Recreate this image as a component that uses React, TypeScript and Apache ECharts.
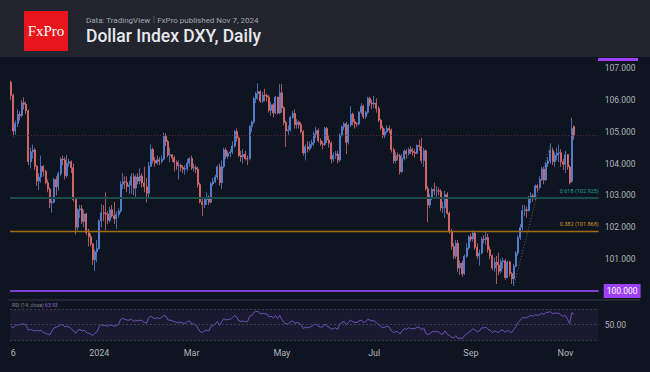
import React, { useEffect, useRef } from "react";
import * as echarts from "echarts";

// Daily candles, each [open, close, low, high]
const nov23 = [
  [106.55, 106.14, 106.0, 106.6], [106.14, 105.02, 104.85, 106.2], [105.02, 105.26, 104.9, 105.35],
  [105.26, 105.55, 105.15, 105.7], [105.55, 105.51, 105.35, 105.65], [105.51, 105.91, 105.45, 106.0],
  [105.91, 105.86, 105.7, 106.08], [105.86, 105.65, 105.55, 105.95], [105.65, 104.06, 103.95, 105.7],
  [104.06, 104.37, 103.85, 104.5], [104.37, 104.43, 104.15, 104.6], [104.43, 103.92, 103.8, 104.5],
  [103.92, 103.45, 103.3, 103.95], [103.45, 103.58, 103.17, 103.7], [103.58, 103.92, 103.4, 104.25],
  [103.92, 103.76, 103.6, 103.95], [103.76, 103.4, 103.35, 103.8], [103.4, 103.2, 103.1, 103.5],
  [103.2, 102.77, 102.6, 103.25], [102.77, 102.79, 102.46, 102.9], [102.79, 103.5, 102.75, 103.55],
];
const dec23 = [
  [103.5, 103.27, 103.0, 103.6], [103.27, 103.68, 103.15, 103.75], [103.68, 104.14, 103.6, 104.2],
  [104.14, 104.12, 103.95, 104.25], [104.12, 103.62, 103.5, 104.2], [103.62, 104.01, 103.55, 104.27],
  [104.01, 104.06, 103.9, 104.15], [104.06, 103.87, 103.7, 104.1], [103.87, 102.87, 102.8, 104.0],
  [102.87, 102.0, 101.77, 102.9], [102.0, 102.55, 101.9, 102.6], [102.55, 102.58, 102.3, 102.7],
  [102.58, 102.18, 102.1, 102.7], [102.18, 102.42, 102.0, 102.55], [102.42, 101.83, 101.75, 102.45],
  [101.83, 101.7, 101.4, 101.95], [101.7, 101.48, 101.4, 101.8], [101.48, 100.98, 100.82, 101.5],
  [100.98, 101.23, 100.62, 101.3], [101.23, 101.33, 100.9, 101.6],
];
const jan24 = [
  [101.33, 102.2, 101.3, 102.25], [102.2, 102.46, 102.0, 102.73], [102.46, 102.43, 102.2, 102.7],
  [102.43, 102.41, 101.9, 103.1], [102.41, 102.22, 102.1, 102.5], [102.22, 102.55, 102.15, 102.65],
  [102.55, 102.36, 102.3, 102.7], [102.36, 102.27, 102.1, 102.8], [102.27, 102.4, 101.95, 102.5],
  [102.4, 102.51, 102.3, 102.6], [102.51, 103.35, 102.45, 103.45], [103.35, 103.43, 103.2, 103.7],
  [103.43, 103.41, 103.2, 103.6], [103.41, 103.28, 103.1, 103.6], [103.28, 103.33, 103.05, 103.45],
  [103.33, 103.59, 103.05, 103.7], [103.59, 103.23, 103.0, 103.7], [103.23, 103.58, 102.9, 103.65],
  [103.58, 103.45, 103.35, 103.7], [103.45, 103.61, 103.35, 103.85], [103.61, 103.39, 103.25, 103.7],
  [103.39, 103.27, 103.1, 103.9],
];
const feb24 = [
  [103.27, 103.07, 102.78, 103.55], [103.07, 103.92, 102.95, 104.05], [103.92, 104.44, 103.9, 104.6],
  [104.44, 104.1, 104.0, 104.5], [104.1, 104.02, 103.9, 104.2], [104.02, 104.12, 103.95, 104.25],
  [104.12, 104.07, 103.95, 104.2], [104.07, 104.14, 104.0, 104.25], [104.14, 104.86, 104.1, 104.97],
  [104.86, 104.69, 104.55, 104.95], [104.69, 104.27, 104.2, 104.75], [104.25, 104.28, 104.05, 104.5],
  [104.28, 104.18, 104.05, 104.3], [104.18, 104.04, 103.75, 104.25], [104.04, 103.93, 103.8, 104.1],
  [103.93, 103.94, 103.5, 104.1], [103.94, 103.88, 103.75, 104.0], [103.88, 103.82, 103.7, 103.95],
  [103.82, 103.84, 103.65, 103.95], [103.84, 104.01, 103.75, 104.15], [104.01, 104.16, 103.9, 104.2],
];
const mar24 = [
  [104.16, 103.86, 103.8, 104.25], [103.86, 103.87, 103.75, 104.0], [103.87, 103.82, 103.7, 103.95],
  [103.82, 103.34, 103.25, 103.9], [103.34, 102.8, 102.75, 103.4], [102.8, 102.71, 102.35, 102.9],
  [102.71, 102.87, 102.6, 102.95], [102.87, 102.95, 102.7, 103.1], [102.95, 102.79, 102.7, 103.0],
  [102.79, 103.37, 102.75, 103.42], [103.37, 103.43, 103.3, 103.55], [103.43, 103.58, 103.4, 103.65],
  [103.58, 103.9, 103.5, 103.95], [103.9, 103.4, 103.3, 104.0], [103.4, 103.9, 103.2, 104.1],
  [103.9, 104.43, 103.85, 104.5], [104.43, 104.23, 104.15, 104.5], [104.23, 104.33, 104.15, 104.4],
  [104.33, 104.36, 104.2, 104.45], [104.36, 104.55, 104.3, 104.7],
];
const apr24 = [
  [104.55, 105.01, 104.5, 105.05], [105.01, 104.8, 104.7, 105.1], [104.8, 104.25, 104.2, 104.85],
  [104.25, 104.21, 104.05, 104.4], [104.21, 104.29, 104.0, 104.45], [104.29, 104.16, 104.1, 104.4],
  [104.16, 104.15, 103.95, 104.25], [104.15, 105.17, 104.1, 105.2], [105.17, 105.3, 105.0, 105.35],
  [105.3, 106.04, 105.25, 106.1], [106.04, 106.2, 105.9, 106.25], [106.2, 106.26, 106.0, 106.52],
  [106.26, 105.96, 105.9, 106.3], [105.96, 106.15, 105.9, 106.25], [106.15, 106.13, 105.95, 106.35],
  [106.13, 106.09, 105.95, 106.2], [106.09, 105.67, 105.6, 106.15], [105.67, 105.85, 105.5, 105.95],
  [105.85, 105.59, 105.45, 105.9], [105.59, 106.09, 105.55, 106.12], [106.09, 105.59, 105.55, 106.1],
  [105.59, 106.22, 105.55, 106.5],
];
const may24 = [
  [106.22, 105.75, 105.6, 106.5], [105.75, 105.29, 105.2, 105.8], [105.29, 105.03, 104.52, 105.35],
  [105.03, 105.06, 104.9, 105.2], [105.06, 105.45, 105.0, 105.5], [105.45, 105.57, 105.4, 105.65],
  [105.57, 105.22, 105.1, 105.7], [105.22, 105.3, 105.1, 105.4], [105.3, 105.22, 105.1, 105.35],
  [105.22, 105.0, 104.95, 105.3], [105.0, 104.33, 104.25, 105.05], [104.33, 104.53, 104.1, 104.6],
  [104.53, 104.46, 104.35, 104.7], [104.46, 104.6, 104.4, 104.7], [104.6, 104.65, 104.5, 104.75],
  [104.65, 104.93, 104.55, 105.0], [104.93, 105.04, 104.8, 105.15], [105.04, 104.72, 104.65, 105.1],
  [104.72, 104.62, 104.55, 104.8], [104.62, 104.6, 104.45, 104.7], [104.6, 105.1, 104.55, 105.15],
  [105.1, 104.74, 104.65, 105.15], [104.74, 104.64, 104.5, 104.9],
];
const jun24 = [
  [104.64, 104.14, 104.0, 104.7], [104.14, 104.26, 104.05, 104.35], [104.26, 104.3, 104.15, 104.4],
  [104.3, 104.11, 104.0, 104.4], [104.11, 104.9, 104.05, 104.95], [104.9, 105.15, 104.85, 105.2],
  [105.15, 105.25, 105.05, 105.3], [105.25, 104.67, 104.3, 105.3], [104.67, 105.21, 104.6, 105.25],
  [105.21, 105.55, 105.15, 105.8], [105.55, 105.31, 105.2, 105.6], [105.31, 105.25, 105.1, 105.4],
  [105.25, 105.24, 105.15, 105.3], [105.24, 105.61, 105.2, 105.65], [105.61, 105.8, 105.55, 105.9],
  [105.8, 105.47, 105.4, 105.85], [105.47, 105.61, 105.4, 105.65], [105.61, 106.05, 105.55, 106.1],
  [106.05, 105.9, 105.8, 106.1], [105.9, 105.87, 105.7, 106.0],
];
const jul24 = [
  [105.87, 105.9, 105.75, 106.13], [105.9, 105.73, 105.6, 106.05], [105.73, 105.36, 105.3, 105.8],
  [105.36, 105.12, 105.05, 105.4], [105.12, 104.89, 104.8, 105.2], [104.89, 105.0, 104.8, 105.1],
  [105.0, 105.11, 104.95, 105.2], [105.11, 105.05, 104.95, 105.2], [105.05, 104.44, 104.35, 105.1],
  [104.44, 104.09, 104.0, 104.5], [104.09, 104.25, 104.0, 104.35], [104.25, 104.24, 104.1, 104.35],
  [104.24, 103.75, 103.65, 104.3], [103.75, 104.16, 103.7, 104.3], [104.16, 104.39, 104.1, 104.45],
  [104.39, 104.31, 104.15, 104.45], [104.31, 104.44, 104.25, 104.5], [104.44, 104.38, 104.3, 104.55],
  [104.38, 104.35, 104.25, 104.5], [104.35, 104.32, 104.2, 104.45], [104.32, 104.57, 104.3, 104.6],
  [104.57, 104.54, 104.4, 104.75], [104.54, 104.1, 104.0, 104.8],
];
const aug24 = [
  [104.1, 104.4, 103.9, 104.5], [104.4, 103.21, 103.15, 104.45], [103.21, 102.7, 102.16, 103.3],
  [102.7, 102.95, 102.6, 103.05], [102.95, 103.19, 102.85, 103.25], [103.19, 103.14, 103.0, 103.4],
  [103.14, 103.15, 102.95, 103.3], [103.15, 103.13, 103.0, 103.25], [103.13, 102.61, 102.5, 103.2],
  [102.61, 102.62, 102.45, 102.8], [102.62, 103.03, 102.3, 103.15], [103.03, 102.44, 102.4, 103.1],
  [102.44, 101.88, 101.8, 102.5], [101.88, 101.4, 101.3, 101.95], [101.4, 101.09, 101.0, 101.5],
  [101.09, 101.5, 101.0, 101.6], [101.5, 100.72, 100.6, 101.6], [100.72, 100.87, 100.5, 100.95],
  [100.87, 100.54, 100.45, 100.95], [100.54, 101.09, 100.5, 101.15], [101.09, 101.35, 101.05, 101.5],
  [101.35, 101.7, 101.3, 101.75],
];
const sep24 = [
  [101.7, 101.63, 101.55, 101.8], [101.63, 101.82, 101.55, 101.9], [101.82, 101.37, 101.3, 101.85],
  [101.37, 101.1, 101.0, 101.5], [101.1, 101.19, 100.8, 101.3], [101.19, 101.63, 101.15, 101.7],
  [101.63, 101.62, 101.5, 101.75], [101.62, 101.68, 101.45, 101.85], [101.68, 101.3, 101.2, 101.8],
  [101.3, 101.11, 101.0, 101.4], [101.11, 100.72, 100.65, 101.15], [100.72, 100.9, 100.6, 101.05],
  [100.9, 100.82, 100.22, 101.1], [100.82, 100.62, 100.5, 101.2], [100.62, 100.92, 100.55, 101.0],
  [100.92, 100.95, 100.7, 101.05], [100.95, 100.42, 100.35, 101.0], [100.42, 100.91, 100.4, 100.95],
  [100.91, 100.55, 100.45, 100.95], [100.55, 100.38, 100.22, 100.6], [100.38, 100.78, 100.157, 100.85],
];
const oct24 = [
  [100.78, 101.19, 100.75, 101.25], [101.19, 101.68, 101.1, 101.75], [101.68, 101.99, 101.6, 102.1],
  [101.99, 102.52, 101.9, 102.7], [102.52, 102.55, 102.35, 102.7], [102.55, 102.52, 102.3, 102.65],
  [102.52, 102.92, 102.5, 102.98], [102.92, 102.99, 102.75, 103.1], [102.99, 102.89, 102.8, 103.05],
  [102.89, 103.3, 102.85, 103.35], [103.3, 103.25, 103.1, 103.35], [103.25, 103.5, 103.2, 103.6],
  [103.5, 103.83, 103.45, 103.9], [103.83, 103.49, 103.35, 103.9], [103.49, 104.01, 103.45, 104.05],
  [104.01, 104.08, 103.9, 104.2], [104.08, 104.42, 104.0, 104.636], [104.42, 104.06, 103.95, 104.5],
  [104.06, 104.26, 103.9, 104.35], [104.26, 104.32, 104.1, 104.5], [104.32, 104.34, 104.05, 104.6],
  [104.34, 104.06, 103.9, 104.45], [104.06, 103.98, 103.8, 104.15],
];
const nov24 = [
  [103.98, 104.28, 103.7, 104.4], [104.28, 103.89, 103.8, 104.0], [103.89, 103.4, 103.35, 103.95],
  [103.45, 105.1, 103.4, 105.44], [105.16, 104.9, 104.75, 105.2],
];

// RSI(14) per bar
const rsi = [
  48, 46, 49, 50, 50, 51, 51, 49, 43, 44, 43, 42, 43, 42, 43, 40, 39, 38, 37, 42, 46,
  47, 48, 50, 50, 47, 48, 47, 45, 42, 39, 43, 44, 42, 43, 40, 39, 38, 36, 39, 41,
  48, 50, 49, 49, 48, 50, 49, 48, 49, 51, 57, 58, 57, 56, 56, 57, 54, 56, 55, 56, 55, 53,
  52, 59, 61, 59, 58, 59, 58, 59, 62, 61, 56, 56, 55, 54, 53, 53, 53, 52, 52, 54, 55,
  51, 51, 50, 45, 41, 40, 42, 43, 42, 48, 49, 51, 54, 49, 54, 58, 56, 57, 57, 59,
  62, 60, 55, 54, 55, 54, 54, 61, 62, 66, 67, 67, 64, 65, 64, 64, 60, 61, 59, 62, 58, 62,
  57, 53, 51, 51, 54, 55, 52, 53, 52, 50, 45, 47, 46, 47, 48, 50, 51, 48, 47, 47, 51, 48, 47,
  44, 45, 46, 44, 51, 53, 54, 50, 53, 56, 54, 53, 53, 55, 56, 53, 54, 57, 56, 55,
  55, 53, 50, 48, 46, 47, 48, 47, 42, 40, 41, 41, 38, 42, 45, 44, 46, 45, 45, 45, 47, 47, 43,
  46, 39, 37, 39, 41, 41, 41, 41, 38, 38, 42, 38, 36, 34, 33, 36, 32, 33, 32, 36, 38, 40,
  42, 45, 43, 41, 42, 46, 46, 47, 44, 43, 40, 42, 41, 40, 43, 43, 40, 43, 41, 40, 44,
  48, 53, 56, 59, 59, 59, 61, 62, 61, 63, 62, 63, 65, 63, 66, 66, 67, 64, 65, 65, 65, 62, 61,
  62, 57, 51, 65.5, 63.93,
];

const xTickBars = [1, 41, 84, 126, 169, 214, 258];
const xTickLabels = ["6", "2024", "Mar", "May", "Jul", "Sep", "Nov"];

const resistanceLevel = 104.89;
const fibRatios = ["0.618", "0.382"];
const fibValues = [102.925, 101.868];
const roundLevel = 100;
const trendStart = { bar: 234, price: 100.157 };
const trendEnd = { bar: 251, price: 104.636 };
const rsiBands = [70, 50, 30];
const rsiLast = 63.93;
const padBars = 11;

export default function App() {
  const ref = useRef<HTMLDivElement>(null);

  useEffect(() => {
    if (!ref.current) return;
    const chart = echarts.init(ref.current, undefined, { renderer: "svg" });
    const candles = [
      ...nov23, ...dec23, ...jan24, ...feb24, ...mar24, ...apr24, ...may24,
      ...jun24, ...jul24, ...aug24, ...sep24, ...oct24, ...nov24,
    ];
    const cats = Array.from({ length: candles.length + padBars }, (_, i) => String(i));
    const font = "Roboto, 'Noto Sans', sans-serif";
    const axisGrey = "#b2b5be";
    const fibLine = ["#1b4c47", "#a06c14"];
    const fibText = ["#22a18c", "#d39722"];
    const fibWidth = [2, 1.3];
    const up = "#5f8fe8";
    const down = "#ee7575";
    const resistanceColor = "#5c2c3d";
    const trendColor = "#5a6070";

    chart.setOption({
      animation: false,
      backgroundColor: "#0e1420",
      grid: [
        { left: 10.1, right: 51.3, top: 58, height: 239 },
        { left: 10.1, right: 51.3, top: 301.5, height: 42.6 },
      ],
      xAxis: [
        {
          type: "category", gridIndex: 0, data: cats, boundaryGap: true,
          axisLine: { show: false }, axisTick: { show: false }, axisLabel: { show: false },
          splitLine: { show: false },
        },
        {
          type: "category", gridIndex: 1, data: cats, boundaryGap: true,
          axisLine: { show: false }, axisTick: { show: false }, splitLine: { show: false },
          axisLabel: {
            interval: (i: number) => xTickBars.includes(i),
            formatter: (_v: string, i: number) => {
              const k = xTickBars.indexOf(i);
              return k >= 0 ? xTickLabels[k] : "";
            },
            color: axisGrey, fontSize: 9, fontFamily: font, margin: 4,
          },
        },
      ],
      yAxis: [
        {
          type: "value", gridIndex: 0, position: "right", min: 99.812, max: 107.314,
          splitNumber: 7,
          axisLine: { show: false }, axisTick: { show: false }, splitLine: { show: false },
          axisLabel: {
            showMinLabel: false, showMaxLabel: false, margin: 6,
            color: axisGrey, fontSize: 8.5, fontFamily: font,
            formatter: (v: number) => (Math.abs(v - roundLevel) < 1e-6 ? "" : v.toFixed(3)),
          },
        },
        {
          type: "value", gridIndex: 1, position: "right", min: 25, max: 80,
          axisLine: { show: false }, axisTick: { show: false }, splitLine: { show: false },
          axisLabel: {
            showMinLabel: false, showMaxLabel: false, margin: 6,
            color: axisGrey, fontSize: 8.5, fontFamily: font,
            formatter: (v: number) => (v === 50 ? "50.00" : ""),
          },
        },
      ],
      series: [
        {
          type: "candlestick",
          xAxisIndex: 0, yAxisIndex: 0,
          data: candles,
          barWidth: 1.5,
          itemStyle: {
            color: up, color0: down,
            borderColor: up, borderColor0: down, borderColorDoji: up, borderWidth: 0.7,
          },
          markLine: {
            silent: true, symbol: ["none", "none"],
            data: [
              {
                yAxis: resistanceLevel,
                lineStyle: { color: resistanceColor, type: [1, 2], width: 1.2 },
                label: { show: false },
              },
              ...fibValues.map((v, k) => ({
                yAxis: v,
                lineStyle: { color: fibLine[k], type: "solid", width: fibWidth[k] },
                label: {
                  show: true, position: "insideEndTop",
                  formatter: `${fibRatios[k]} (${v.toFixed(3)})`,
                  color: fibText[k], fontSize: 5.5, fontFamily: font, distance: [0, 4],
                },
              })),
              {
                yAxis: roundLevel,
                lineStyle: { color: "#7c3fd2", type: "solid", width: 2 },
                label: {
                  show: true, position: "end", formatter: roundLevel.toFixed(3),
                  backgroundColor: "#9d40f8", color: "#ffffff", padding: [3, 3, 2, 3],
                  fontSize: 8.5, fontFamily: font, distance: 5,
                },
              },
              [
                {
                  coord: [cats[trendStart.bar], trendStart.price],
                  lineStyle: { color: trendColor, type: [1, 2], width: 1 },
                  label: { show: false },
                },
                { coord: [cats[trendEnd.bar], trendEnd.price] },
              ],
            ],
          },
        },
        {
          type: "line",
          xAxisIndex: 1, yAxisIndex: 1,
          data: rsi,
          showSymbol: false,
          lineStyle: { color: "#6f50b8", width: 1 },
          markArea: {
            silent: true,
            itemStyle: { color: "rgba(126,87,194,0.10)" },
            data: [[{ yAxis: rsiBands[2] }, { yAxis: rsiBands[0] }]],
          },
          markLine: {
            silent: true, symbol: ["none", "none"],
            data: [
              ...rsiBands.map((b) => ({
                yAxis: b,
                lineStyle: { color: "#474b58", type: [2, 2], width: 0.8 },
                label: { show: false },
              })),
              {
                yAxis: rsiLast,
                lineStyle: { opacity: 0 },
                label: {
                  show: true, position: "end", formatter: rsiLast.toFixed(2),
                  backgroundColor: "#7e57c2", color: "#ffffff", padding: [4, 3, 3, 3],
                  fontSize: 8.5, fontFamily: font, distance: 2,
                },
              },
            ],
          },
        },
      ],
      graphic: [
        { type: "rect", shape: { x: 0, y: 0, width: 650, height: 57 }, style: { fill: "#22252e" } },
        { type: "rect", shape: { x: 24, y: 11, width: 44, height: 40 }, style: { fill: "#e9151c" } },
        {
          type: "text", x: 46, y: 31,
          style: {
            text: "FxPro", fill: "#ffffff", font: "15px 'Liberation Serif', serif",
            align: "center", verticalAlign: "middle",
          },
        },
        {
          type: "text", x: 86, y: 20,
          style: {
            text: "Data: TradingView {s|ǀ} FxPro published Nov 7, 2024",
            fill: "#a3a6ae", font: `8px ${font}`, verticalAlign: "middle",
            rich: { s: { fill: "#6b6e77", font: `8px ${font}` } },
          },
        },
        {
          type: "text", x: 86, y: 36,
          style: {
            text: "Dollar Index DXY, Daily", fill: "#e8e9ec",
            font: `500 17.5px ${font}`, verticalAlign: "middle",
          },
        },
        { type: "rect", shape: { x: 598, y: 58, width: 40, height: 3 }, style: { fill: "#9d40f8" } },
        {
          type: "line", shape: { x1: 8, y1: 300, x2: 640, y2: 300 },
          style: { stroke: "#363a45", lineWidth: 1 },
        },
        {
          type: "text", x: 12, y: 305,
          style: {
            text: `RSI (14, close) {v|${rsiLast.toFixed(2)}}`,
            fill: "#7d808a", font: `5px ${font}`, verticalAlign: "middle",
            rich: { v: { fill: "#8e6ad6", font: `5px ${font}` } },
          },
        },
      ],
    });
    return () => chart.dispose();
  }, []);

  return (
    <div
      ref={ref}
      style={{ position: "absolute", left: 0, top: 0, width: 650, height: 372 }}
    />
  );
}
